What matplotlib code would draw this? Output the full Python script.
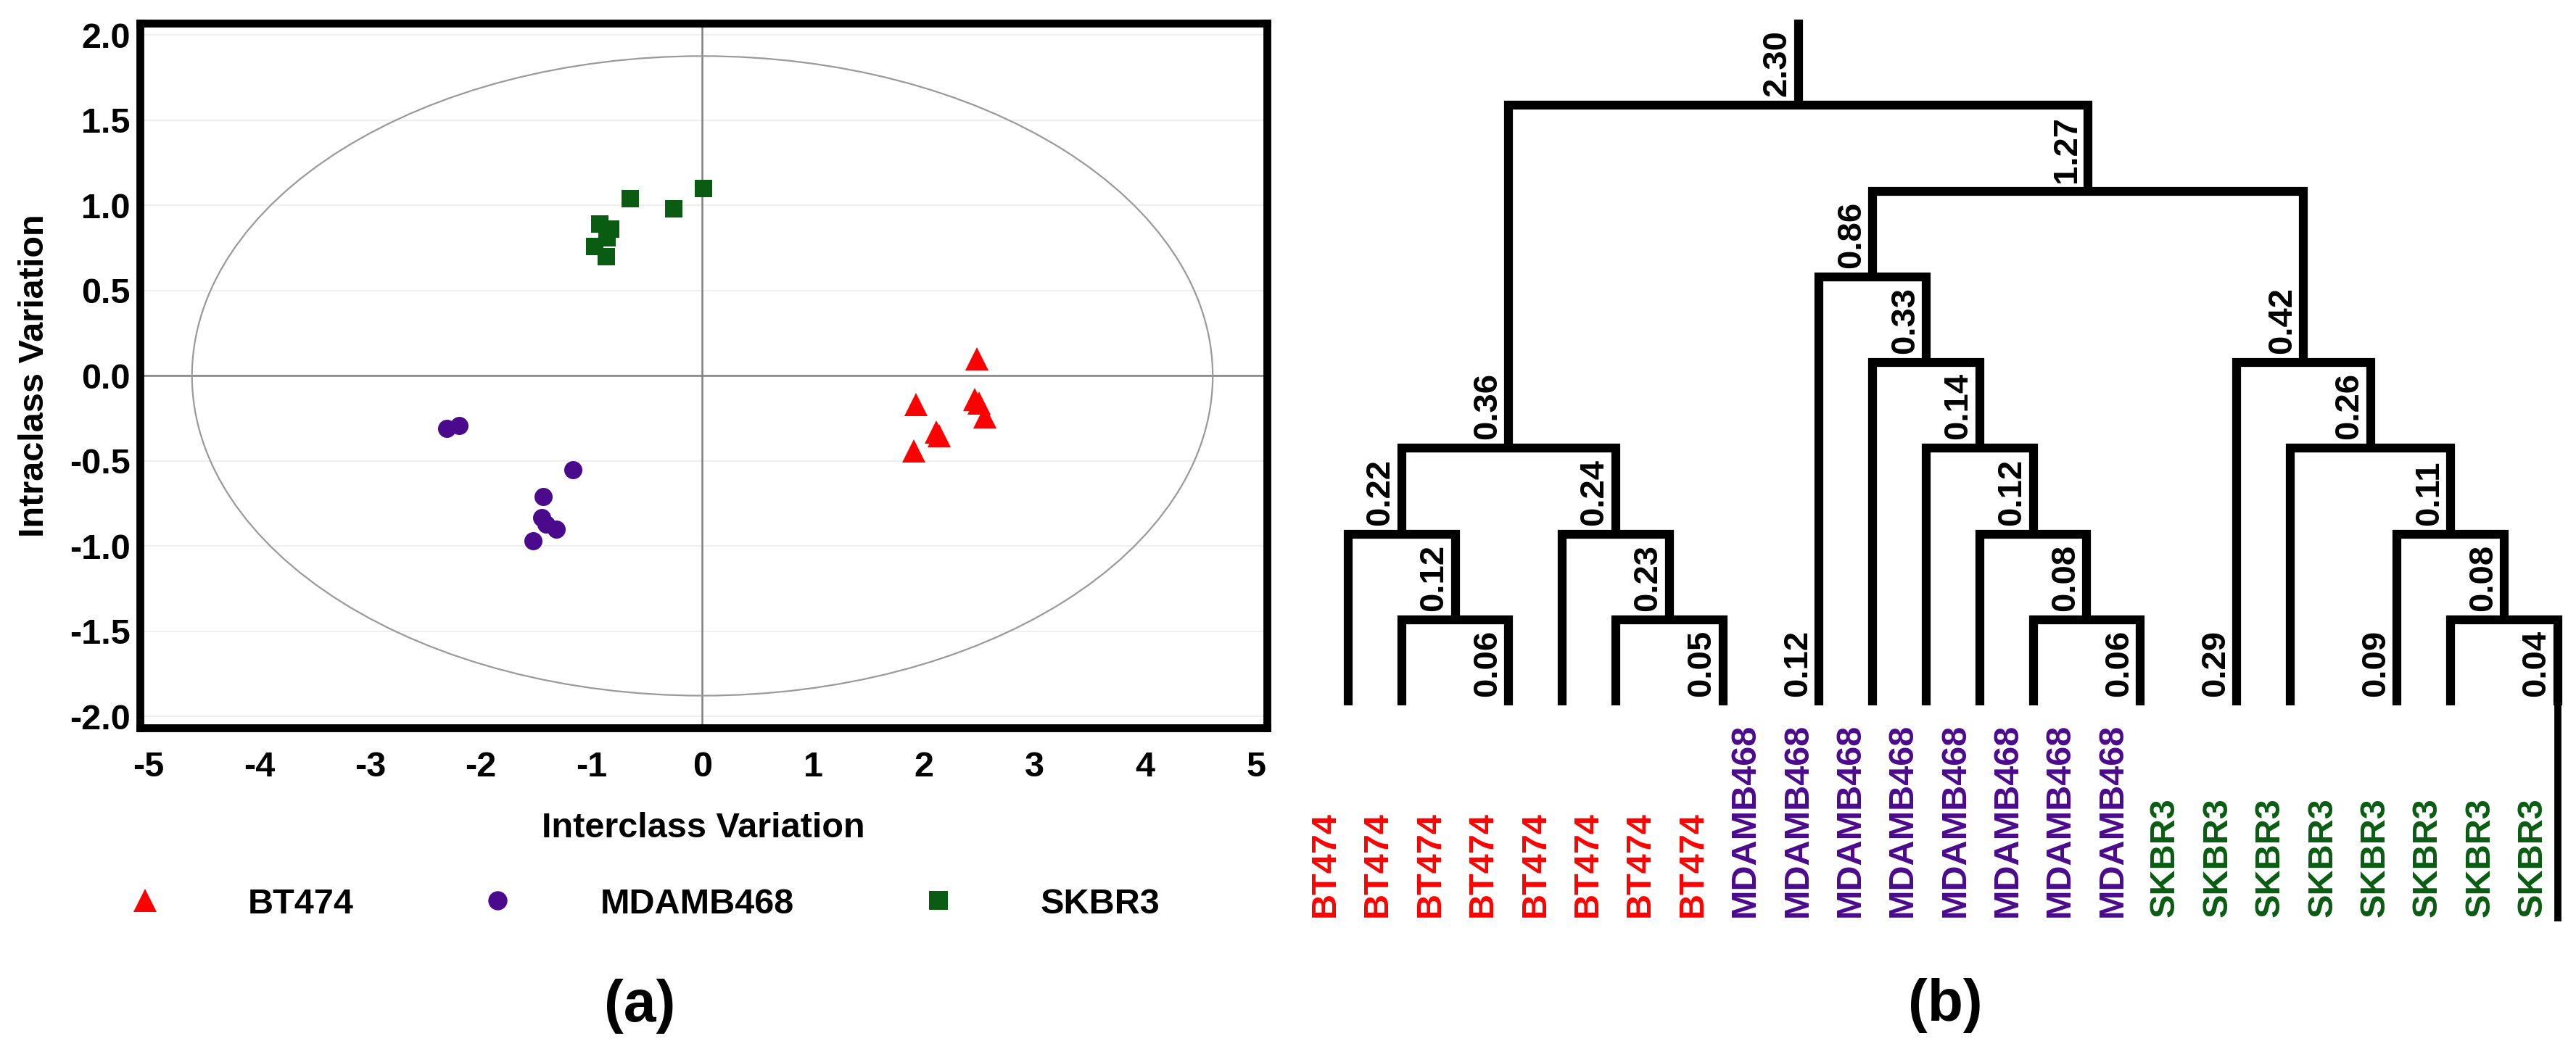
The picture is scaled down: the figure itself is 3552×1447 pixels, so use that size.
import numpy as np
import matplotlib.pyplot as plt
from matplotlib.patches import Ellipse
from matplotlib.lines import Line2D

plt.rcParams['font.family'] = ['Liberation Sans', 'DejaVu Sans']
plt.rcParams['font.weight'] = 'bold'
plt.rcParams['axes.unicode_minus'] = False

# ---- data: score plot (a) ----
bt474_x = [2.48, 1.93, 2.46, 2.50, 2.55, 2.11, 2.14, 1.91]
bt474_y = [0.10, -0.17, -0.14, -0.16, -0.24, -0.33, -0.35, -0.44]
mdamb468_x = [-2.31, -2.20, -1.17, -1.44, -1.45, -1.41, -1.32, -1.53]
mdamb468_y = [-0.31, -0.29, -0.55, -0.71, -0.83, -0.87, -0.90, -0.97]
skbr3_x = [0.01, -0.65, -0.26, -0.93, -0.83, -0.97, -0.87, -0.86]
skbr3_y = [1.10, 1.04, 0.98, 0.89, 0.86, 0.76, 0.70, 0.81]
ellipse_a, ellipse_b = 4.61, 1.877

group_names = ['BT474', 'MDAMB468', 'SKBR3']
group_colors = ['#ff0000', '#4b0a8c', '#0a5c12']

# ---- data: dendrogram (b) ----
# leaves in drawing order, their group and the distance written on their stem
leaf_group = [0, 0, 0, 0, 0, 0, 1, 1, 1, 1, 1, 1, 2, 2, 2, 2, 2]
leaf_dist = [None, None, 0.06, None, None, 0.05,
             0.12, None, None, None, None, 0.06,
             0.29, None, 0.09, None, 0.04]
# merges: (child a, child b, distance); new nodes get ids 17, 18, ...
merges = [
    (1, 2, 0.12),
    (0, 17, 0.22),
    (4, 5, 0.23),
    (3, 19, 0.24),
    (18, 20, 0.36),
    (10, 11, 0.08),
    (9, 22, 0.12),
    (8, 23, 0.14),
    (7, 24, 0.33),
    (6, 25, 0.86),
    (15, 16, 0.08),
    (14, 27, 0.11),
    (13, 28, 0.26),
    (12, 29, 0.42),
    (26, 30, 1.27),
    (21, 31, 2.30),
]
sample_names = ['BT474'] * 8 + ['MDAMB468'] * 8 + ['SKBR3'] * 8
sample_group = [0] * 8 + [1] * 8 + [2] * 8

# ---- layout ----
leaf_slot = [0, 1, 3, 4, 5, 7, 0, 1, 2, 3, 4, 6, 0, 1, 3, 4, 6]
group_gap = 1.8

W, H = 3552, 1447
fig = plt.figure(figsize=(W / 200, H / 200), dpi=200)

# ---------------- (a) ----------------
ax1 = fig.add_axes([193 / W, 1 - 1004 / H, (1747 - 193) / W, (1004 - 32) / H])
ax1.set_xlim(-5.08, 5.10)
ax1.set_ylim(-2.066, 2.070)
yt = np.arange(-2.0, 2.01, 0.5)
ax1.set_yticks(yt)
ax1.set_yticklabels([f'{v:.1f}' for v in yt])
ax1.set_xticks(range(-5, 6))
ax1.tick_params(axis='both', length=0, labelsize=17.5)
ax1.tick_params(axis='y', pad=4.7)
ax1.tick_params(axis='x', pad=11.5)
for t in ax1.get_xticklabels() + ax1.get_yticklabels():
    t.set_fontweight('bold')
for s in ax1.spines.values():
    s.set_linewidth(3.9)
ax1.yaxis.grid(True, color='#efefef', lw=0.8)
ax1.set_axisbelow(True)
ax1.axhline(0, color='#808080', lw=0.9, zorder=1)
ax1.axvline(0, color='#808080', lw=0.9, zorder=1)
ax1.add_patch(Ellipse((0, 0), 2 * ellipse_a, 2 * ellipse_b, fill=False,
                      edgecolor='#9a9a9a', lw=0.8, zorder=1))

ax1.plot(bt474_x, bt474_y, ls='none', marker='^', ms=11.2, mew=0,
         color=group_colors[0], zorder=3)
ax1.plot(mdamb468_x, mdamb468_y, ls='none', marker='o', ms=9.0, mew=0,
         color=group_colors[1], zorder=3)
ax1.plot(skbr3_x, skbr3_y, ls='none', marker='s', ms=8.3, mew=0,
         color=group_colors[2], zorder=3)

ax1.set_xlabel('Interclass Variation', fontsize=17.5, fontweight='bold', labelpad=14)
ax1.set_ylabel('Intraclass Variation', fontsize=17.5, fontweight='bold', labelpad=9.5)

handles = [
    Line2D([], [], ls='none', marker='^', ms=11.2, mew=0, color=group_colors[0]),
    Line2D([], [], ls='none', marker='o', ms=9.5, mew=0, color=group_colors[1]),
    Line2D([], [], ls='none', marker='s', ms=9.5, mew=0, color=group_colors[2]),
]
fig.legend(handles, group_names, loc='center left',
           bbox_to_anchor=(176 / W, 1 - 1247 / H), ncol=3, frameon=False,
           borderpad=0, borderaxespad=0, handlelength=1.0, handletextpad=2.4,
           columnspacing=3.6, prop={'size': 17.5, 'weight': 'bold'})

fig.text(882 / W, 1 - 1388 / H, '(a)', ha='center', va='center',
         fontsize=29, fontweight='bold')

# ---------------- (b) ----------------
slot_px, level_px, x0_px, y0_px = 73.8, 118.25, 1859, 27
left_px = 1780
ax2 = fig.add_axes([left_px / W, 0, 1 - left_px / W, 1])
ax2.set_xlim((left_px - x0_px) / slot_px, (W - x0_px) / slot_px)
ax2.set_ylim((H - y0_px) / level_px, -y0_px / level_px)
ax2.axis('off')

n_leaf = len(leaf_group)
xs, hs, dist = {}, {}, {}
offset = 0.0
for g in range(3):
    idx = [i for i in range(n_leaf) if leaf_group[i] == g]
    for i in idx:
        xs[i] = offset + leaf_slot[i]
        hs[i] = 0
        dist[i] = leaf_dist[i]
    offset = max(xs[i] for i in idx) + group_gap

for j, (a, b, d) in enumerate(merges):
    k = n_leaf + j
    xs[k] = (xs[a] + xs[b]) / 2
    hs[k] = max(hs[a], hs[b]) + 1
    dist[k] = d

top = max(hs.values()) + 1
root = n_leaf + len(merges) - 1
lw = 4.4


def level(n):
    return top - hs[n]


for j, (a, b, d) in enumerate(merges):
    k = n_leaf + j
    yk = level(k)
    ax2.plot([xs[a], xs[a], xs[b], xs[b]], [level(a), yk, yk, level(b)],
             color='black', lw=lw, solid_joinstyle='miter', solid_capstyle='butt')
ax2.plot([xs[root], xs[root]], [0, level(root)], color='black', lw=lw,
         solid_capstyle='butt')

label_level = 10.47
last_leaf = n_leaf - 1
ax2.plot([xs[last_leaf], xs[last_leaf]], [level(last_leaf), label_level + 0.05],
         color='black', lw=lw * 0.8, solid_capstyle='butt')

for n, d in dist.items():
    if d is None:
        continue
    ax2.text(xs[n] - 0.1, level(n) - 0.1, f'{d:.2f}', rotation=90,
             ha='right', va='bottom', fontsize=17, fontweight='bold')

label_x = np.linspace(-0.43, 22.13, len(sample_names))
for x, name, g in zip(label_x, sample_names, sample_group):
    ax2.text(x, label_level, name, rotation=90, ha='center', va='bottom',
             fontsize=17.5, fontweight='bold', color=group_colors[g])

fig.text(2682 / W, 1 - 1387 / H, '(b)', ha='center', va='center',
         fontsize=29, fontweight='bold')

fig.savefig('out.png', dpi=200)
